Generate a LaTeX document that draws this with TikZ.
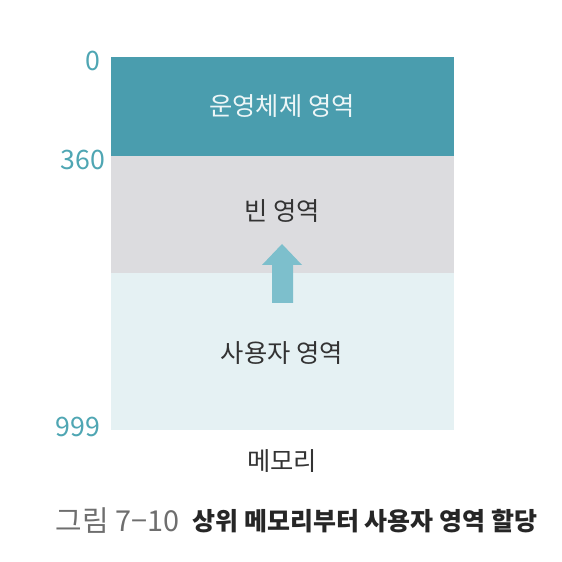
\documentclass[tikz,border=0pt]{standalone}
\usepackage{fontspec}
\setmainfont{Noto Sans CJK KR}
\usepackage{tikz}
\definecolor{ostl}{HTML}{4A9DAE}
\definecolor{freegr}{HTML}{DCDCDF}
\definecolor{userbl}{HTML}{E5F1F3}
\definecolor{arrbl}{HTML}{7DBFCC}
\definecolor{numtl}{HTML}{4FA6B3}
\definecolor{capgr}{HTML}{6E6E6E}
\def\txt{\fontsize{7.2}{9}\selectfont}
\def\numtxt{\fontsize{7.6}{9}\selectfont}
\def\num{\draw[numtl]}

\begin{document}
\begin{tikzpicture}[x=0.01cm,y=-0.01cm]
                \useasboundingbox (0,0) rectangle (562,562);
                \fill[ostl]   (111, 57) rectangle (454,156);
                \fill[freegr] (111,156) rectangle (454,273);
                \fill[userbl] (111,273) rectangle (454,430);
                \fill[arrbl] (272,303) -- (272,265) -- (262,265) -- (282,244)
                    -- (302,265) -- (293,265) -- (293,303) -- cycle;
                \node[white!90!numtl,font=\txt] (os) at (282,106) {운영체제 영역};
                \node[black!80,font=\txt] (free) at (282,211) {빈 영역};
                \node[black!80,font=\txt] (user) at (282,353) {사용자 영역};
                \node[black!80,font=\txt] (mem) at (282,461) {메모리};
                \num node[anchor=east,inner sep=0,font=\numtxt] (n0) at (101, 61) {0};
                \num node[anchor=east,inner sep=0,font=\numtxt] (n360) at (106,160) {360};
                \num node[anchor=east,inner sep=0,font=\numtxt] (n999) at (101,427) {999};
                \node[anchor=west,inner sep=0,capgr,font=\fontsize{8.2}{9}\selectfont] (fig) at (55,521) {그림 7−10};
                \node[anchor=west,inner sep=0,black!85,font=\fontsize{7.1}{9}\selectfont\bfseries]
                    (cap) at ([xshift=0.12cm]fig.east) {상위 메모리부터 사용자 영역 할당};
            \end{tikzpicture}
\end{document}
